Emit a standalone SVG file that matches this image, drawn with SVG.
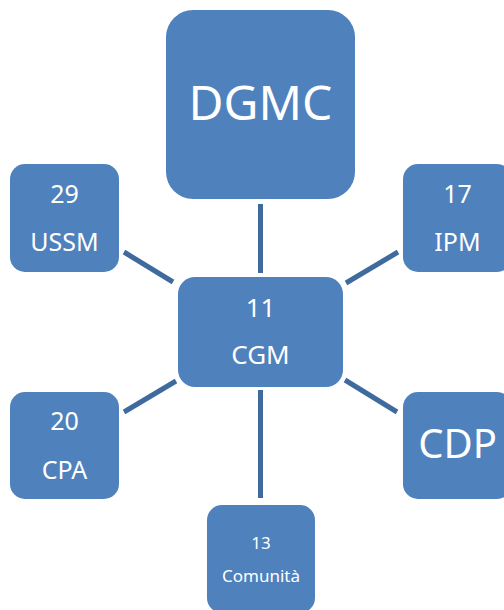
<svg xmlns="http://www.w3.org/2000/svg" width="504" height="610" viewBox="0 0 504 610">
<style>
.box{fill:#4F81BD;}
.t{fill:#FFFFFF;font-family:"Noto Sans","Open Sans",sans-serif;text-anchor:middle;}
.c{stroke:#3F6A9E;stroke-width:5;fill:none;}
</style>
<rect width="504" height="610" fill="#FFFFFF"/>
<g id="connectors">
<line class="c" x1="260.5" y1="204" x2="260.5" y2="273"/>
<line class="c" x1="124" y1="252" x2="173" y2="282"/>
<line class="c" x1="398" y1="252" x2="346" y2="283"/>
<line class="c" x1="124" y1="412" x2="176" y2="381"/>
<line class="c" x1="345" y1="380" x2="397" y2="412"/>
<line class="c" x1="260.5" y1="390" x2="260.5" y2="498"/>
</g>
<g id="DGMC">
<rect class="box" x="166" y="10" width="189" height="189" rx="27"/>
<text class="t" x="260.5" y="120" font-size="48">DGMC</text>
</g>
<g id="USSM">
<rect class="box" x="10" y="164" width="109" height="108" rx="15"/>
<text class="t" x="64.5" y="203" font-size="25">29</text>
<text class="t" x="64.5" y="251" font-size="25">USSM</text>
</g>
<g id="IPM">
<rect class="box" x="403" y="164" width="109" height="108" rx="15"/>
<text class="t" x="457.5" y="203" font-size="25">17</text>
<text class="t" x="457.5" y="251" font-size="25">IPM</text>
</g>
<g id="CGM">
<rect class="box" x="178" y="277" width="165" height="110" rx="17"/>
<text class="t" x="260.5" y="317" font-size="26">11</text>
<text class="t" x="260.5" y="364" font-size="26">CGM</text>
</g>
<g id="CPA">
<rect class="box" x="10" y="392" width="109" height="107" rx="15"/>
<text class="t" x="64.5" y="430" font-size="25">20</text>
<text class="t" x="64.5" y="479" font-size="25">CPA</text>
</g>
<g id="CDP">
<rect class="box" x="403" y="392" width="109" height="107" rx="15"/>
<text class="t" x="457.5" y="458" font-size="40">CDP</text>
</g>
<g id="Comunita">
<rect class="box" x="207" y="505" width="108" height="108" rx="15"/>
<text class="t" x="261" y="549" font-size="17">13</text>
<text class="t" x="261" y="582" font-size="17">Comunità</text>
</g>
</svg>
